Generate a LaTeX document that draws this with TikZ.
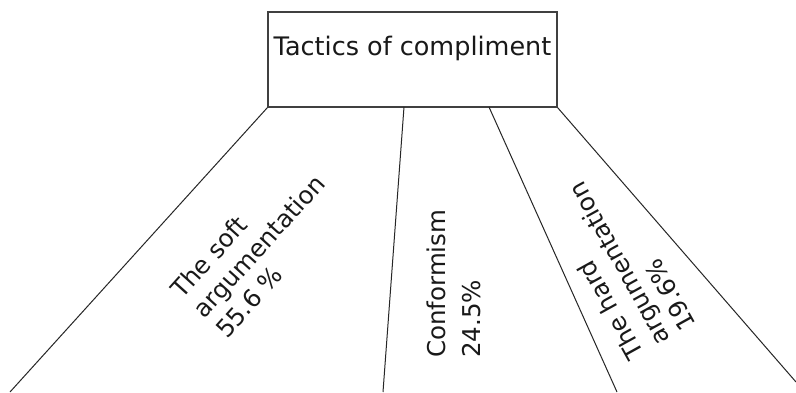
\documentclass[tikz,border=0pt]{standalone}
\usepackage{fontspec}
\setmainfont{DejaVu Sans}
\begin{document}
\begin{tikzpicture}[x=1pt,y=-1pt,
  boxstyle/.style={draw=black!75,line width=1.2pt,rectangle,inner sep=0pt,
    minimum width=289pt,minimum height=95pt,
    font=\fontsize{25.5}{30}\selectfont,text=black!90,text height=18pt,text depth=27pt},
  conn/.style={draw=black!85,line width=1pt},
  lbl/.style={font=\fontsize{24.5}{30}\selectfont,text=black!90,inner sep=0pt,
    align=left,anchor=base west}]
\useasboundingbox (0,0) rectangle (796,392);
\fill[white] (0,0) rectangle (796,392);
\node[boxstyle] (box) at (412.5,59.5) {Tactics of compliment};
\coordinate (a1) at (10,392);
\coordinate (b0) at (404,107);
\coordinate (b1) at (383,392);
\coordinate (c0) at (489,107);
\coordinate (c1) at (617,392);
\coordinate (d1) at (796,382);
\draw[conn] (box.south west) -- (a1);
\draw[conn] (b0) -- (b1);
\draw[conn] (c0) -- (c1);
\draw[conn] (box.south east) -- (d1);
% anchor = baseline start of the last line
\node[lbl,rotate=48] (soft) at (227,340) {The soft\\argumentation\\55.6 \%};
\node[lbl,rotate=90,font=\fontsize{24.5}{35}\selectfont] (conf) at (480,358) {Conformism\\24.5\%};
\node[lbl,rotate=119] (hard) at (697,325) {The hard\\argumentation\\19.6\%};
\end{tikzpicture}
\end{document}
